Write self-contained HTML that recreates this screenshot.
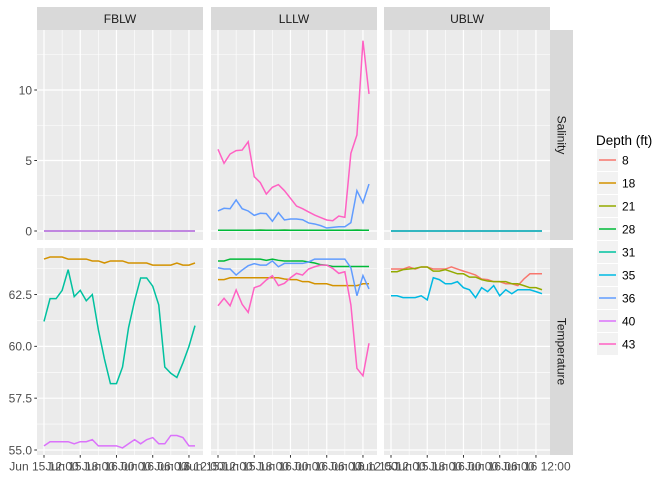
<!DOCTYPE html>
<html><head><meta charset="utf-8">
<style>
html,body{margin:0;padding:0;background:#fff;}
svg{display:block;font-family:"Liberation Sans",Arial,sans-serif;}
</style></head>
<body>
<svg id="chart" width="672" height="480" viewBox="0 0 672 480" xmlns="http://www.w3.org/2000/svg"></svg>
<script>
const sites = ["FBLW","LLLW","UBLW"];
const measures = ["Salinity","Temperature"];
const depths = ["8","18","21","28","31","35","36","40","43"];
const colors = ["#F8766D","#D39200","#93AA00","#00BA38","#00C19F","#00B9E3","#619CFF","#DB72FB","#FF61C3"];
const xTickHours = [0,6,12,18,24];
const xTickLabels = ["Jun 15 12:00","Jun 15 18:00","Jun 16 00:00","Jun 16 06:00","Jun 16 12:00"];
const salTicks = [0,5,10];
const tempTicks = [55.0,57.5,60.0,62.5];
const tempTickLabels = ["55.0","57.5","60.0","62.5"];
const zeros = [0,0,0,0,0,0,0,0,0,0,0,0,0,0,0,0,0,0,0,0,0,0,0,0,0,0];
const lowSal = [0.05,0.05,0.05,0.05,0.05,0.05,0.05,0.06,0.05,0.05,0.05,0.06,0.05,0.05,0.05,0.05,0.05,0.05,0.05,0.05,0.05,0.05,0.05,0.06,0.05,0.05];
const lllwSal43 = [5.79,4.80,5.46,5.70,5.74,6.33,3.85,3.43,2.62,3.10,3.29,2.86,2.32,1.77,1.58,1.35,1.13,0.95,0.78,0.73,1.06,0.97,5.51,6.81,13.5,9.72];
const lllwSal36 = [1.42,1.61,1.58,2.20,1.58,1.42,1.11,1.26,1.23,0.69,1.30,0.78,0.85,0.85,0.80,0.57,0.50,0.38,0.21,0.26,0.30,0.30,0.59,2.86,2.01,3.33];
const fblwT18 = [64.21,64.31,64.31,64.31,64.21,64.21,64.21,64.21,64.12,64.12,64.02,64.12,64.12,64.12,64.02,64.02,64.02,64.02,63.92,63.92,63.92,63.92,64.02,63.92,63.92,64.02];
const fblwT31 = [61.2,62.3,62.3,62.7,63.7,62.4,62.7,62.2,62.5,60.8,59.4,58.2,58.2,59.0,60.9,62.2,63.3,63.3,62.9,62.0,59.0,58.7,58.5,59.2,60.0,61.0];
const fblwT40 = [55.2,55.4,55.4,55.4,55.4,55.3,55.4,55.4,55.5,55.2,55.2,55.2,55.2,55.1,55.3,55.5,55.3,55.5,55.6,55.3,55.3,55.7,55.7,55.6,55.2,55.2];
const lllwT18 = [63.22,63.22,63.31,63.31,63.31,63.31,63.31,63.31,63.31,63.31,63.31,63.25,63.22,63.22,63.12,63.12,63.02,63.02,63.02,62.93,62.93,62.93,62.93,62.93,63.02,63.02];
const lllwT28 = [64.12,64.12,64.21,64.21,64.21,64.21,64.21,64.21,64.15,64.21,64.15,64.12,64.12,64.12,64.12,64.07,64.02,63.94,63.91,63.85,63.85,63.85,63.85,63.85,63.85,63.85];
const lllwT36 = [63.79,63.73,63.73,63.44,63.68,63.89,63.99,63.92,63.92,64.12,63.84,64.0,64.0,64.0,64.0,64.07,64.21,64.21,64.21,64.21,64.21,64.21,63.79,62.44,63.41,62.77];
const lllwT43 = [61.96,62.32,61.96,62.72,62.03,61.64,62.83,62.93,63.2,63.41,62.93,63.04,63.31,63.52,63.44,63.73,63.84,63.92,63.92,63.76,63.52,63.6,62.0,58.94,58.58,60.15];
const ublwT8 = [63.73,63.73,63.73,63.83,63.73,63.83,63.83,63.73,63.73,63.73,63.83,63.73,63.63,63.54,63.44,63.25,63.22,63.12,63.12,63.02,63.02,62.93,63.25,63.5,63.5,63.5];
const ublwT21 = [63.6,63.6,63.7,63.73,63.76,63.83,63.83,63.63,63.63,63.7,63.6,63.5,63.5,63.34,63.34,63.22,63.15,63.12,63.12,63.12,63.02,63.02,62.93,62.83,62.83,62.73];
const ublwT35 = [62.44,62.44,62.35,62.35,62.35,62.44,62.24,63.31,63.22,63.02,63.02,63.12,62.83,62.73,62.35,62.83,62.64,62.93,62.44,62.73,62.54,62.73,62.73,62.73,62.64,62.54];

const series = [
 {site:0,m:0,d:1,v:zeros},{site:0,m:0,d:4,v:zeros},{site:0,m:0,d:7,v:zeros},
 {site:1,m:0,d:1,v:lowSal},{site:1,m:0,d:3,v:lowSal},{site:1,m:0,d:6,v:lllwSal36},{site:1,m:0,d:8,v:lllwSal43},
 {site:2,m:0,d:0,v:zeros},{site:2,m:0,d:2,v:zeros},{site:2,m:0,d:5,v:zeros},
 {site:0,m:1,d:1,v:fblwT18},{site:0,m:1,d:4,v:fblwT31},{site:0,m:1,d:7,v:fblwT40},
 {site:1,m:1,d:1,v:lllwT18},{site:1,m:1,d:3,v:lllwT28},{site:1,m:1,d:6,v:lllwT36},{site:1,m:1,d:8,v:lllwT43},
 {site:2,m:1,d:0,v:ublwT8},{site:2,m:1,d:2,v:ublwT21},{site:2,m:1,d:5,v:ublwT35}
];

const NS="http://www.w3.org/2000/svg";
const svg=document.getElementById('chart');
function el(tag,attrs,parent){const e=document.createElementNS(NS,tag);for(const k in attrs)e.setAttribute(k,attrs[k]);(parent||svg).appendChild(e);return e;}

const panelX=[37,211,384], panelW=166;
const rows=[{top:30,h:210},{top:248,h:207}];
function xScale(p,h){return panelX[p]+7+h*6.04;}
function yScale(m,v){ return m===0 ? 231-v*14.1 : 450-(v-55)*20.73; }
const yMinor=[[2.5,7.5,12.5],[56.25,58.75,61.25,63.75]];
const yMajor=[salTicks,tempTicks];
const xMinor=[-3,3,9,15,21];

for(let p=0;p<3;p++){
  const s=el('rect',{x:panelX[p],y:7,width:panelW,height:23,fill:'#d9d9d9'});
  
  
  const t=el('text',{x:panelX[p]+panelW/2,y:23,'text-anchor':'middle','font-size':'12',fill:'#1a1a1a'});
  t.textContent=sites[p];
  
  
}
for(let m=0;m<2;m++){
  const r=rows[m];
  const s=el('rect',{x:550,y:r.top,width:23,height:r.h,fill:'#d9d9d9'});
  
  
  const cy=r.top+r.h/2;
  const t=el('text',{x:561.5,y:cy,'text-anchor':'middle','dominant-baseline':'central','font-size':'12',fill:'#1a1a1a',transform:`rotate(90 561.5 ${cy})`});
  t.textContent=measures[m];
  
  
  for(let p=0;p<3;p++){
    const g=el('g',{});
    
    
    el('rect',{x:panelX[p],y:r.top,width:panelW,height:r.h,fill:'#ebebeb'},g);
    const clip=el('clipPath',{id:`c${p}${m}`},g);
    el('rect',{x:panelX[p],y:r.top,width:panelW,height:r.h},clip);
    yMinor[m].forEach(v=>{const y=yScale(m,v);if(y>r.top&&y<r.top+r.h)el('line',{x1:panelX[p],x2:panelX[p]+panelW,y1:y,y2:y,stroke:'#fff','stroke-width':0.6},g);});
    xMinor.forEach(h=>{const x=xScale(p,h);if(x>panelX[p]&&x<panelX[p]+panelW)el('line',{x1:x,x2:x,y1:r.top,y2:r.top+r.h,stroke:'#fff','stroke-width':0.6},g);});
    yMajor[m].forEach(v=>{const y=yScale(m,v);el('line',{x1:panelX[p],x2:panelX[p]+panelW,y1:y,y2:y,stroke:'#fff','stroke-width':1.2},g);});
    xTickHours.forEach(h=>{const x=xScale(p,h);el('line',{x1:x,x2:x,y1:r.top,y2:r.top+r.h,stroke:'#fff','stroke-width':1.2},g);});
    series.filter(s=>s.site===p&&s.m===m).forEach(s=>{
      const pts=s.v.map((v,i)=>xScale(p,i).toFixed(2)+','+yScale(m,v).toFixed(2)).join(' ');
      const pl=el('polyline',{points:pts,fill:'none',stroke:colors[s.d],'stroke-width':1.5,'clip-path':`url(#c${p}${m})`},g);
      
      
    });
  }
  const labs = m===0 ? salTicks.map(String) : tempTickLabels;
  yMajor[m].forEach((v,i)=>{
    const y=yScale(m,v);
    el('line',{x1:34.3,x2:37,y1:y,y2:y,stroke:'#333','stroke-width':1});
    const t=el('text',{x:32,y:y+4.3,'text-anchor':'end','font-size':'12',fill:'#4d4d4d'});
    t.textContent=labs[i];
    
    
  });
}
for(let p=0;p<3;p++){
  xTickHours.forEach((h,i)=>{
    const x=xScale(p,h);
    el('line',{x1:x,x2:x,y1:455,y2:457.7,stroke:'#333','stroke-width':1});
    const t=el('text',{x:x,y:470.5,'text-anchor':'middle','font-size':'12',fill:'#4d4d4d'});
    t.textContent=xTickLabels[i];
    
    
  });
}
const lg=el('g',{});


const lt=el('text',{x:596,y:145,'font-size':'13.5',fill:'#000'},lg);
lt.textContent='Depth (ft)';


depths.forEach((d,i)=>{
  const cy=160+i*23;
  const g=el('g',{},lg);
  
  
  el('rect',{x:597,y:cy-11,width:21,height:22,fill:'#f2f2f2'},g);
  el('line',{x1:599,x2:616,y1:cy,y2:cy,stroke:colors[i],'stroke-width':1.5},g);
  const t=el('text',{x:622,y:cy+4.3,'font-size':'12',fill:'#000'},g);
  t.textContent=d;
});
</script>
</body></html>
